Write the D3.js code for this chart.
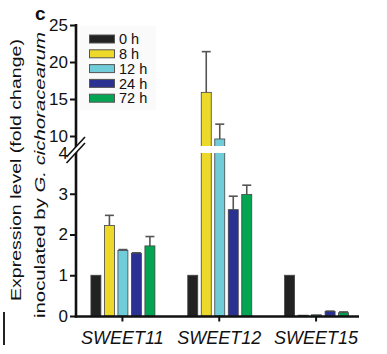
<!DOCTYPE html>
<html><head><meta charset="utf-8">
<script src="https://cdn.jsdelivr.net/npm/d3@7"></script>
<style>body{margin:0;background:#fff}svg{display:block;font-family:"Liberation Sans",Arial,sans-serif}</style>
</head><body>
<script>
const categories = ["SWEET11", "SWEET12", "SWEET15"];
const series = ["0 h", "8 h", "12 h", "24 h", "72 h"];
const colors = ["#222222", "#ecd92a", "#6fccd8", "#2b3192", "#03a552"];
// values[series][category]
const values = [
  [1.0, 1.0, 1.0],
  [2.22, 15.9, 0.02],
  [1.61, 9.6, 0.03],
  [1.54, 2.61, 0.11],
  [1.72, 2.98, 0.08]
];
const errors = [
  [null, null, null],
  [2.47, 21.4, null],
  [1.63, 11.6, null],
  [1.55, 2.94, 0.12],
  [1.95, 3.21, 0.10]
];
const lowTicks = [0, 1, 2, 3, 4];
const highTicks = [10, 15, 20, 25];

const W = 387, H = 354;
const svg = d3.select("body").append("svg").attr("width", W).attr("height", H);

const yLow = d3.scaleLinear().domain([0, 4]).range([316, 153]);
const yHigh = d3.scaleLinear().domain([10, 25]).range([136, 25]);
const y = v => v <= 4 ? yLow(v) : yHigh(v);
const x0 = d3.scaleBand().domain(categories).range([74, 364.5]);
const x1 = d3.scaleBand().domain(series).range([-31.5, 32.5]).paddingInner(0.26);

const axisX = 76;
const gray = "#555";

// legend background
svg.append("rect").attr("x", 80).attr("y", 26).attr("width", 76).attr("height", 84).attr("fill", "#fafafa");

// bars
const data = [];
series.forEach((s, si) => categories.forEach((c, ci) => {
  data.push({s, c, si, v: values[si][ci], e: errors[si][ci]});
}));
const g = svg.append("g");
data.forEach(d => {
  const bx = x0(d.c) + x0.bandwidth() / 2 + x1(d.s);
  const bw = x1.bandwidth();
  if (d.e != null) {
    g.append("line").attr("x1", bx + bw / 2).attr("x2", bx + bw / 2)
      .attr("y1", y(d.v)).attr("y2", y(d.e)).attr("stroke", gray).attr("stroke-width", 1.6);
    g.append("line").attr("x1", bx + bw / 2 - 4.5).attr("x2", bx + bw / 2 + 4.5)
      .attr("y1", y(d.e)).attr("y2", y(d.e)).attr("stroke", gray).attr("stroke-width", 1.6);
  }
  g.append("rect").attr("x", bx).attr("width", bw)
    .attr("y", y(d.v)).attr("height", Math.max(0.5, 316 - y(d.v)))
    .attr("fill", colors[d.si]).attr("stroke", "#444").attr("stroke-width", 0.8);
  if (d.v > 4) {
    g.append("rect").attr("x", bx - 2).attr("width", bw + 4).attr("y", 146).attr("height", 7).attr("fill", "#fff");
  }
});

// y axes
const fmt = d3.format("d");
const lowAxis = d3.axisLeft(yLow).tickValues(lowTicks).tickFormat(fmt).tickSize(6).tickPadding(2).tickSizeOuter(0);
const highAxis = d3.axisLeft(yHigh).tickValues(highTicks).tickFormat(fmt).tickSize(6).tickPadding(2).tickSizeOuter(0);
[lowAxis, highAxis].forEach(ax => {
  const a = svg.append("g").attr("transform", `translate(${axisX},0)`).call(ax);
  a.select(".domain").remove();
  a.selectAll("line").attr("stroke", "#111").attr("stroke-width", 2);
  a.selectAll("text").attr("font-size", 17).attr("fill", "#111");
});
svg.append("line").attr("x1", axisX).attr("x2", axisX).attr("y1", 24).attr("y2", 317.5)
  .attr("stroke", "#111").attr("stroke-width", 2.6);
// break marks
svg.append("path").attr("d", "M66.5,157L85,137L85,143L66.5,163Z").attr("fill", "#fff");
svg.append("line").attr("x1", 66.5).attr("y1", 157).attr("x2", 85).attr("y2", 137).attr("stroke", "#111").attr("stroke-width", 1.6);
svg.append("line").attr("x1", 66.5).attr("y1", 163).attr("x2", 85).attr("y2", 143).attr("stroke", "#111").attr("stroke-width", 1.6);

// x axis
const xAxis = d3.axisBottom(x0).tickSize(5).tickSizeOuter(0).tickPadding(6);
const xa = svg.append("g").attr("transform", "translate(0,316.5)").call(xAxis);
xa.select(".domain").remove();
xa.selectAll("line").attr("stroke", "#111").attr("stroke-width", 2);
xa.selectAll("text").attr("font-size", 18).attr("font-style", "italic").attr("fill", "#111").attr("dy", "0.9em");
svg.append("line").attr("x1", axisX - 1.3).attr("x2", 359).attr("y1", 316.5).attr("y2", 316.5)
  .attr("stroke", "#111").attr("stroke-width", 2.6);

// legend
const lg = svg.append("g");
series.forEach((s, i) => {
  const cy = 39 + i * 14.8;
  lg.append("rect").attr("x", 89.5).attr("y", cy - 4).attr("width", 25).attr("height", 8)
    .attr("fill", colors[i]).attr("stroke", "#555").attr("stroke-width", 1);
  lg.append("text").attr("x", 119).attr("y", cy).attr("dy", "0.36em")
    .attr("font-size", 14.5).attr("fill", "#111").text(s);
});

// y title
svg.append("text").attr("transform", "translate(20.5,170) rotate(-90)")
  .attr("text-anchor", "middle").attr("font-size", 15).attr("fill", "#111")
  .attr("textLength", 262).attr("lengthAdjust", "spacingAndGlyphs")
  .text("Expression level (fold change)");
const t2 = svg.append("text").attr("transform", "translate(45,175) rotate(-90)")
  .attr("text-anchor", "middle").attr("font-size", 15).attr("fill", "#111")
  .attr("textLength", 286).attr("lengthAdjust", "spacingAndGlyphs");
t2.append("tspan").text("inoculated by ");
t2.append("tspan").attr("font-style", "italic").text("G. cichoracearum");

// panel label
svg.append("text").attr("x", 35).attr("y", 20).attr("font-size", 19).attr("font-weight", "bold")
  .attr("fill", "#111").text("c");

// stray mark at left edge
svg.append("line").attr("x1", 4).attr("x2", 4).attr("y1", 312).attr("y2", 345).attr("stroke", "#222").attr("stroke-width", 2);
</script>
</body></html>
